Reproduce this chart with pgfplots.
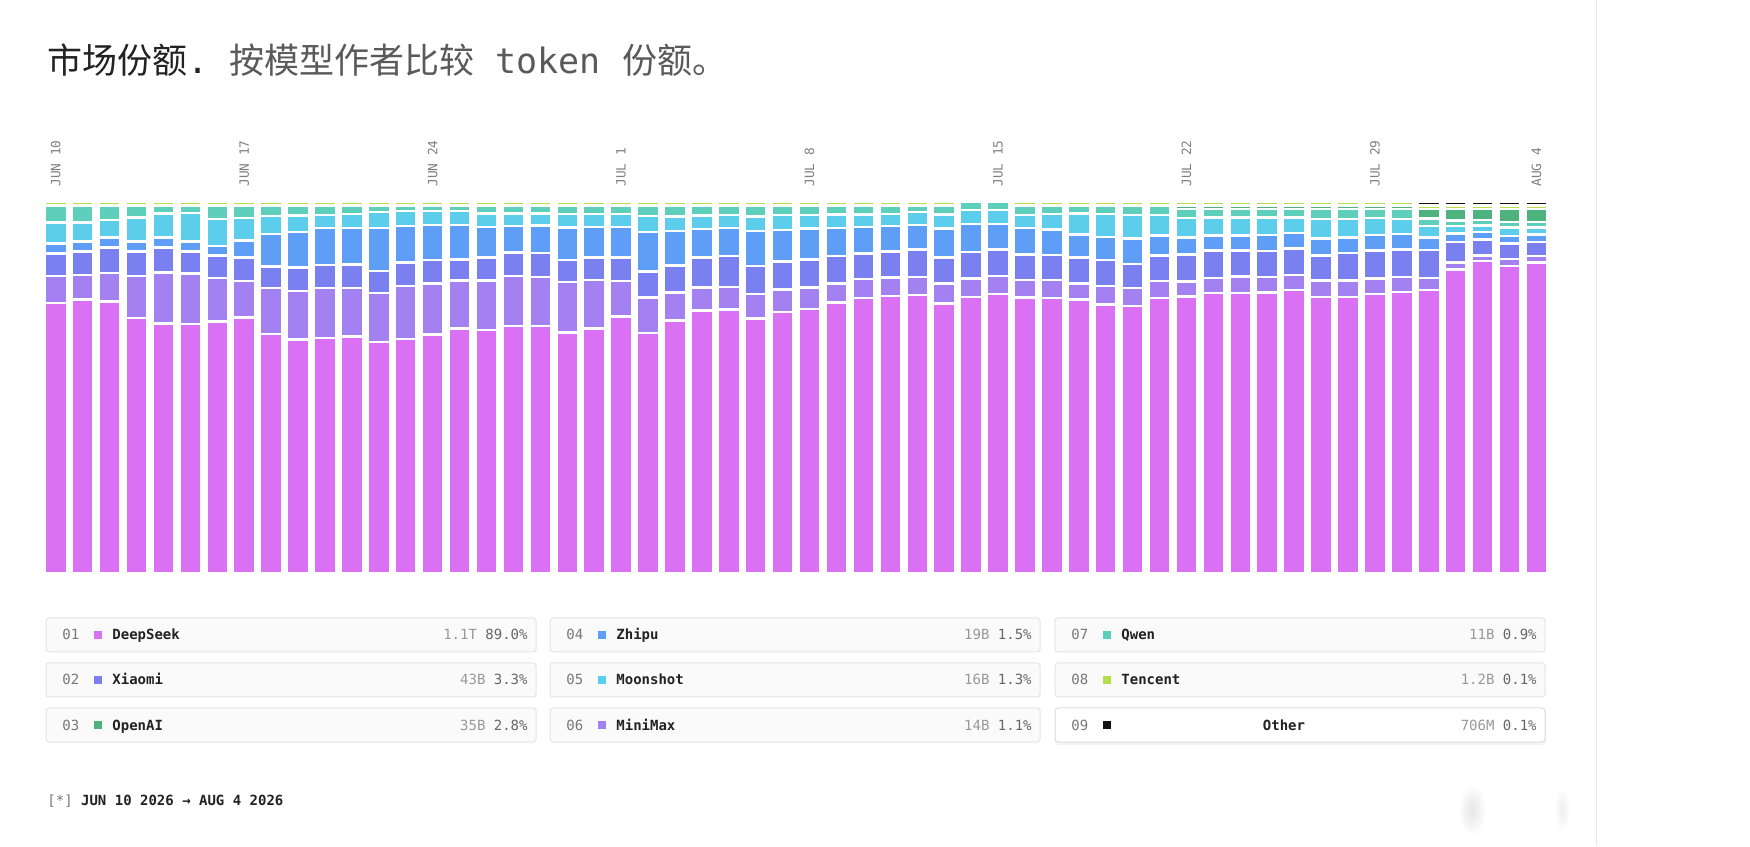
\documentclass[border=0pt]{standalone}
\usepackage{pgfplots}
\pgfplotsset{compat=1.18}
\usepackage{pgfplotstable}
\usepackage{fontspec}
\setmainfont{DejaVu Sans Mono}
\newfontfamily\cjk{Noto Sans CJK SC}

\definecolor{cds}{HTML}{DA70F3}
\definecolor{cmm}{HTML}{A381F1}
\definecolor{cxi}{HTML}{7B80F1}
\definecolor{czh}{HTML}{5F9EF6}
\definecolor{cmo}{HTML}{5CCDEA}
\definecolor{cqw}{HTML}{5DCFBA}
\definecolor{coa}{HTML}{4DB27E}
\definecolor{ctc}{HTML}{B4DF4A}
\definecolor{cot}{HTML}{111111}
\definecolor{tdark}{HTML}{222222}
\definecolor{tgray}{HTML}{5A5A5A}
\definecolor{tickgray}{HTML}{808080}
\definecolor{numgray}{HTML}{777777}
\definecolor{valgray}{HTML}{999999}
\definecolor{pctgray}{HTML}{666666}
\definecolor{boxline}{HTML}{E4E4E4}
\definecolor{boxfill}{HTML}{FAFAFA}
\definecolor{sideline}{HTML}{E8E8E8}

% share of tokens per day, bottom to top
\pgfplotstableread{
x  ds    mm    xi   zh    mo   qw   oa   tc   ot
0  72.80 7.23  6.05 2.71  5.69 4.52 0    1.0  0
1  73.70 6.69  6.32 2.71  5.06 4.52 0    1.0  0
2  73.16 7.77  6.78 2.71  4.69 3.89 0    1.0  0
3  68.74 11.29 6.68 2.62  6.51 3.16 0    1.0  0
4  67.29 13.73 6.78 2.62  6.50 2.08 0    1.0  0
5  67.11 13.64 5.87 2.71  7.68 1.99 0    1.0  0
6  67.83 11.66 6.14 2.53  7.31 3.53 0    1.0  0
7  68.92 9.75  6.33 4.60  6.05 3.35 0    1.0  0
8  64.49 12.29 5.87 8.76  4.79 2.80 0    1.0  0
9  62.92 13.13 6.33 9.48  4.52 2.62 0    1.0  0
10 63.32 13.46 6.23 9.93  3.62 2.44 0    1.0  0
11 63.72 13.06 6.32 9.94  3.70 2.26 0    1.0  0
12 62.23 13.28 5.96 11.47 4.34 1.72 0    1.0  0
13 63.13 14.28 6.32 9.76  4.06 1.45 0    1.0  0
14 64.31 13.73 6.32 9.49  3.79 1.36 0    1.0  0
15 65.93 12.92 5.69 9.31  3.79 1.36 0    1.0  0
16 65.48 13.37 6.15 8.22  3.70 2.08 0    1.0  0
17 66.66 13.37 6.32 7.14  3.43 2.08 0    1.0  0
18 66.57 13.28 6.41 7.41  3.25 2.08 0    1.0  0
19 64.85 13.64 5.87 8.77  3.61 2.26 0    1.0  0
20 65.93 13.10 5.97 8.31  3.43 2.26 0    1.0  0
21 69.19 9.48  6.33 8.22  3.52 2.26 0    1.0  0
22 64.76 9.49  7.04 10.66 4.25 2.80 0    1.0  0
23 68.01 7.59  7.32 9.21  3.98 2.89 0    1.0  0
24 70.81 6.15  8.04 7.76  3.62 2.62 0    1.0  0
25 71.08 6.06  8.31 7.49  3.62 2.44 0    1.0  0
26 68.55 6.69  7.50 9.39  3.98 2.89 0    1.0  0
27 70.36 6.05  7.59 8.49  3.98 2.53 0    1.0  0
28 71.17 5.79  7.58 8.31  3.71 2.44 0    1.0  0
29 72.89 5.15  7.41 7.59  3.61 2.35 0    1.0  0
30 74.16 5.14  6.87 7.05  3.43 2.35 0    1.0  0
31 74.70 4.97  7.04 6.78  3.25 2.26 0    1.0  0
32 74.88 4.97  7.40 6.60  3.43 1.72 0    1.0  0
33 72.62 5.42  6.96 7.85  3.80 2.35 0    1.0  0
34 74.34 5.06  7.14 7.59  3.70 2.17 0    0    0
35 75.25 4.88  7.04 6.96  3.70 2.17 0    0    0
36 74.25 4.78  6.78 7.23  3.43 2.53 0    1.0  0
37 74.16 4.87  6.69 6.86  4.25 2.17 0    1.0  0
38 73.70 4.34  7.05 6.14  5.69 2.08 0    1.0  0
39 72.35 4.97  7.04 6.24  6.14 2.26 0    1.0  0
40 71.99 4.79  6.50 6.95  6.24 2.53 0    1.0  0
41 74.16 4.51  6.87 5.42  5.60 2.44 0    1.0  0
42 74.53 4.06  7.23 4.61  5.24 2.43 0.95 0.95 0
43 75.43 4.16  7.31 4.07  4.79 2.34 0.95 0.95 0
44 75.52 4.43  6.95 4.07  4.79 2.34 0.95 0.95 0
45 75.61 4.25  6.95 4.34  4.61 2.34 0.95 0.95 0
46 76.33 4.07  7.04 4.25  4.16 2.25 0.95 0.95 0
47 74.44 4.42  6.69 4.60  5.33 2.62 0.95 0.95 0
48 74.44 4.42  7.41 4.16  4.96 2.71 0.95 0.95 0
49 75.16 4.24  7.50 4.16  4.61 2.43 0.95 0.95 0
50 75.70 4.07  7.40 4.16  4.06 2.71 0.95 0.95 0
51 76.33 3.26  7.49 3.35  3.07 2.07 2.53 0.95 0.95
52 81.75 1.90  5.51 2.35  2.08 1.44 3.07 0.95 0.95
53 84.10 1.54  4.24 2.08  1.72 1.44 2.98 0.95 0.95
54 82.75 1.89  4.16 2.08  2.26 1.53 3.43 0.95 0.95
55 83.74 1.72  3.79 1.99  1.90 1.53 3.43 0.95 0.95
}\sharetable

\newcommand{\legfont}{\fontsize{7}{8}\selectfont}
% x-left, y-top, number, colour, name, volume, share
\newcommand{\legitem}[7]{%
  \draw[rounded corners=1.5pt, draw=boxline, fill=boxfill, line width=0.5pt] (#1,#2) rectangle ++(245,-17);
  \node[anchor=base west, inner sep=0, text=numgray] at (#1+8,#2-11) {\legfont #3};
  \fill[#4] (#1+24.1,#2-10.4) rectangle ++(3.8,3.8);
  \node[anchor=base west, inner sep=0, text=tdark] at (#1+33,#2-11) {\legfont\bfseries #5};
  \node[anchor=base east, inner sep=0] at (#1+241,#2-11) {\legfont{\color{valgray}#6} {\color{pctgray}#7}};
}

\begin{document}
\begin{tikzpicture}[x=1pt,y=1pt]
\path[use as bounding box, fill=white] (0,0) rectangle (875,423);
\draw[line width=0.5pt, sideline] (798,0) -- (798,423);
\shade[inner color=black!10, outer color=white] (736,18) ellipse (7 and 13);
\shade[inner color=black!7, outer color=white] (781,18) ellipse (4 and 11);

\node[anchor=base west, inner sep=0] at (23.5,386) {\fontsize{17.5}{20}\selectfont
  {\color{tdark}\cjk 市场份额}{\color{tdark}.}\ {\color{tgray}\cjk 按模型作者比较}\ {\color{tgray}token}\ {\color{tgray}\cjk 份额。}};

\begin{axis}[
  at={(21.15pt,136.4pt)}, anchor=south west,
  scale only axis, width=753.8pt, height=185.6pt,
  xmin=-0.5, xmax=55.5, ymin=0, ymax=100,
  ybar stacked, bar width=11pt,
  axis line style={draw=none},
  major tick length=0pt, tick style={draw=none},
  ytick=\empty,
  xtick={0,7,14,21,28,35,42,49,55},
  xticklabels={JUN 10,JUN 17,JUN 24,JUL 1,JUL 8,JUL 15,JUL 22,JUL 29,AUG 4},
  xticklabel pos=upper,
  xticklabel shift=4.2pt,
  xticklabel style={rotate=90, anchor=west, font=\fontsize{6.4}{7}\selectfont, text=tickgray},
  clip=false,
]
\addplot[fill=cds, draw=white, line width=1.25pt] table[x=x, y=ds] {\sharetable};
\addplot[fill=cmm, draw=white, line width=1.25pt] table[x=x, y=mm] {\sharetable};
\addplot[fill=cxi, draw=white, line width=1.25pt] table[x=x, y=xi] {\sharetable};
\addplot[fill=czh, draw=white, line width=1.25pt] table[x=x, y=zh] {\sharetable};
\addplot[fill=cmo, draw=white, line width=1.25pt] table[x=x, y=mo] {\sharetable};
\addplot[fill=cqw, draw=white, line width=1.25pt] table[x=x, y=qw] {\sharetable};
\addplot[fill=coa, draw=white, line width=1.25pt] table[x=x, y=oa] {\sharetable};
\addplot[fill=ctc, draw=white, line width=1.25pt] table[x=x, y=tc] {\sharetable};
\addplot[fill=cot, draw=white, line width=1.25pt] table[x=x, y=ot] {\sharetable};
\end{axis}

\legitem{23}{114}{01}{cds}{DeepSeek}{1.1T}{89.0\%}
\legitem{23}{91.5}{02}{cxi}{Xiaomi}{43B}{3.3\%}
\legitem{23}{69}{03}{coa}{OpenAI}{35B}{2.8\%}
\legitem{275}{114}{04}{czh}{Zhipu}{19B}{1.5\%}
\legitem{275}{91.5}{05}{cmo}{Moonshot}{16B}{1.3\%}
\legitem{275}{69}{06}{cmm}{MiniMax}{14B}{1.1\%}
\legitem{527.5}{114}{07}{cqw}{Qwen}{11B}{0.9\%}
\legitem{527.5}{91.5}{08}{ctc}{Tencent}{1.2B}{0.1\%}
% hovered item: white box, centred name
\fill[black!4, rounded corners=1.5pt] (527.5,68.3) rectangle ++(245.6,-17.8);
\draw[rounded corners=1.5pt, draw=black!14, fill=white, line width=0.5pt] (527.5,69) rectangle ++(245,-17);
\node[anchor=base west, inner sep=0, text=numgray] at (535.5,58) {\legfont 09};
\fill[cot] (551.6,58.6) rectangle ++(3.8,3.8);
\node[anchor=base, inner sep=0, text=tdark] at (642,58) {\legfont\bfseries Other};
\node[anchor=base east, inner sep=0] at (768.5,58) {\legfont{\color{valgray}706M} {\color{pctgray}0.1\%}};

\node[anchor=base west, inner sep=0] at (23.5,20.5) {\fontsize{7}{8}\selectfont{\color{numgray}[*]} {\color{tdark}\bfseries JUN 10 2026 → AUG 4 2026}};
\end{tikzpicture}
\end{document}
